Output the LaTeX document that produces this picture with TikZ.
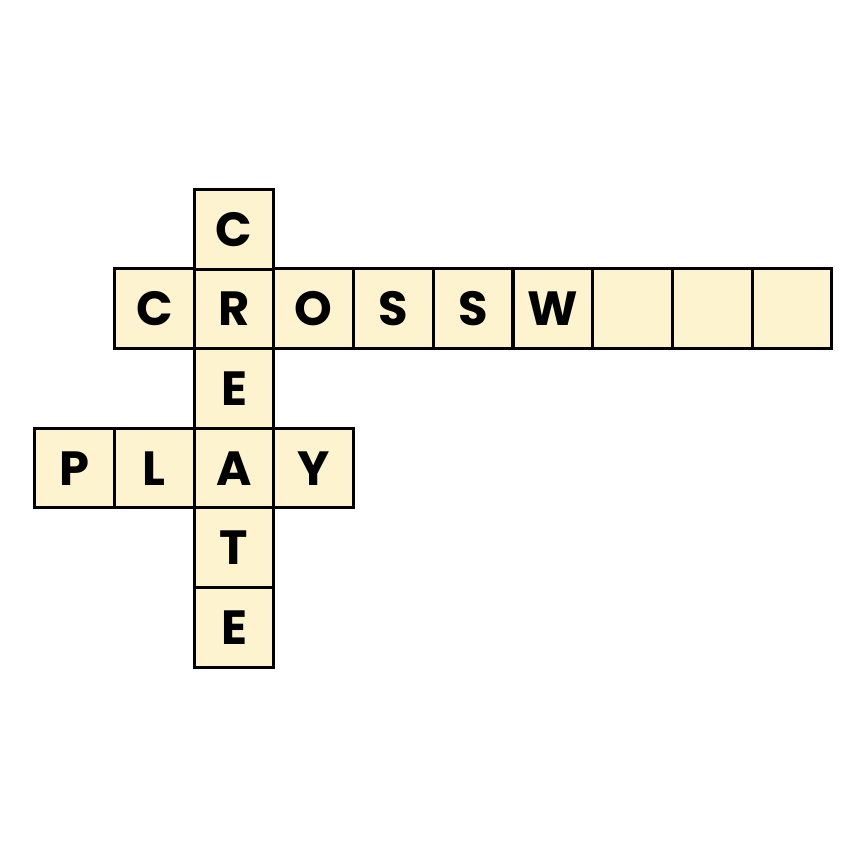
\documentclass[tikz,border=0pt]{standalone}
\usepackage{fontspec}
\setmainfont{Poppins}
\definecolor{cellfill}{HTML}{FDF3CF}
\begin{document}
\begin{tikzpicture}[x=1pt,y=-1pt,
  cell/.style={draw=black,line width=3pt,fill=cellfill,minimum size=79.6pt,inner sep=0pt,anchor=center,text height=34pt,text depth=-8pt,font=\fontsize{48}{48}\selectfont\bfseries}]
\useasboundingbox (0,0) rectangle (864,864);
\fill[white] (0,0) rectangle (864,864);
\def\cw{79.7}
% row CROSSWORD (center y 308.3)
\foreach \L [count=\i from 0] in {C,R,O,S,S,W,{},{},{}}{
  \node[cell] (r\i) at ({114.5+\cw*(\i+0.5)},308.3) {\L};
}
% column CREATE
\node[cell] (c0) at (234.0,229.3) {C};
\node[cell] (c2) at (234.0,388.5) {E};
\node[cell] (p0) at (74.6,468.1) {P};
\node[cell] (p1) at (154.3,468.1) {L};
\node[cell] (c3) at (234.0,468.1) {A};
\node[cell] (p3) at (313.7,468.1) {Y};
\node[cell] (c4) at (234.0,547.7) {T};
\node[cell] (c5) at (234.0,627.3) {E};
\end{tikzpicture}
\end{document}
